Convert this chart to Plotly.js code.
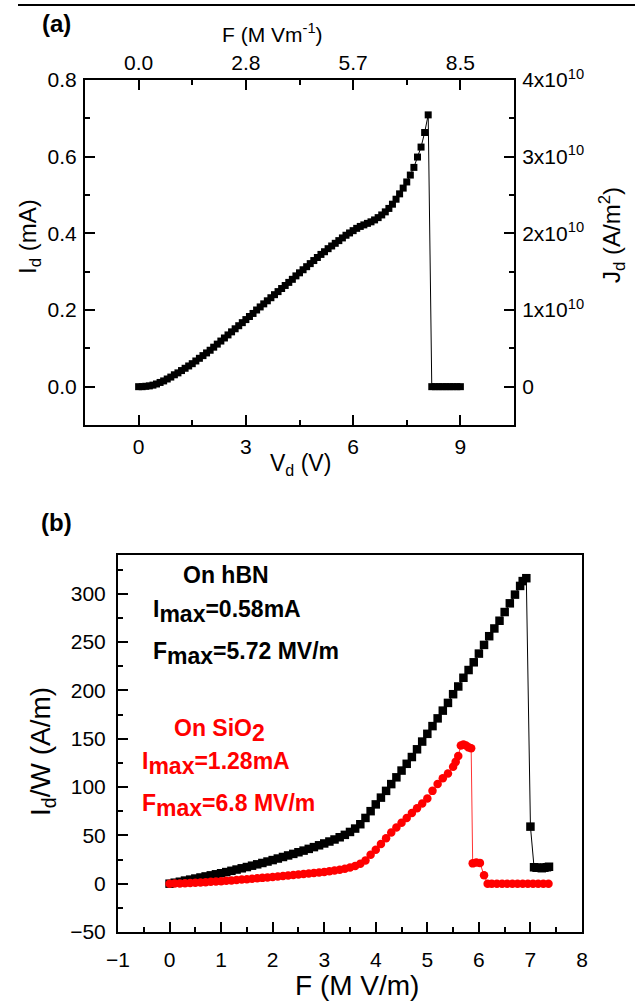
<!DOCTYPE html>
<html>
<head>
<meta charset="utf-8">
<script src="https://cdn.plot.ly/plotly-3.0.1.min.js"></script>
<style>html,body{margin:0;padding:0;background:#fff;}#chart{width:635px;height:1001px;}</style>
</head>
<body>
<div id="chart"></div>
<script>
// ---------- Panel (a): Id vs Vd ----------
const Vd = [0.0,0.1,0.2,0.3,0.4,0.5,0.6,0.7,0.8,0.9,1.0,1.1,1.2,1.3,1.4,1.5,1.6,1.7,1.8,1.9,
  2.0,2.1,2.2,2.3,2.4,2.5,2.6,2.7,2.8,2.9,3.0,3.1,3.2,3.3,3.4,3.5,3.6,3.7,3.8,3.9,
  4.0,4.1,4.2,4.3,4.4,4.5,4.6,4.7,4.8,4.9,5.0,5.1,5.2,5.3,5.4,5.5,5.6,5.7,5.8,5.9,
  6.0,6.1,6.2,6.3,6.4,6.5,6.6,6.7,6.8,6.9,7.0,7.1,7.2,7.3,7.4,7.5,7.6,7.7,7.8,7.9,
  8.0,8.1,8.2,8.3,8.4,8.5,8.6,8.7,8.8,8.9,9.0];
const Id_mA = [0.000,0.000,0.001,0.002,0.004,0.007,0.011,0.015,0.020,0.025,0.031,0.036,0.042,0.048,0.054,0.060,0.067,0.074,0.081,0.088,
  0.095,0.103,0.111,0.119,0.127,0.135,0.143,0.151,0.159,0.167,0.175,0.183,0.191,0.200,0.208,0.216,0.224,0.232,0.240,0.248,
  0.256,0.264,0.272,0.280,0.289,0.297,0.305,0.313,0.321,0.329,0.337,0.345,0.352,0.360,0.367,0.374,0.381,0.388,0.395,0.401,
  0.407,0.413,0.418,0.422,0.426,0.430,0.435,0.441,0.448,0.456,0.465,0.476,0.489,0.503,0.518,0.534,0.552,0.572,0.599,0.625,
  0.663,0.709,0.000,0.000,0.000,0.000,0.000,0.000,0.000,0.000,0.000];

// tick labels (a)
const F_top_vals = [0, 3, 6, 9];
const F_top_labels = ['0.0', '2.8', '5.7', '8.5'];
const J_tick_vals = [0, 1e10, 2e10, 3e10, 4e10];
const J_tick_labels = ['0', '1x10<sup>10</sup>', '2x10<sup>10</sup>', '3x10<sup>10</sup>', '4x10<sup>10</sup>'];

// ---------- Panel (b): Id/W vs F ----------
const F_hBN = [0.0,0.1,0.2,0.3,0.4,0.5,0.6,0.7,0.8,0.9,1.0,1.1,1.2,1.3,1.4,1.5,1.6,1.7,1.8,1.9,
  2.0,2.1,2.2,2.3,2.4,2.5,2.6,2.7,2.8,2.9,3.0,3.1,3.2,3.3,3.4,3.5,3.6,3.7,3.8,3.9,
  4.0,4.1,4.2,4.3,4.4,4.5,4.6,4.7,4.8,4.9,5.0,5.1,5.2,5.3,5.4,5.5,5.6,5.7,5.8,5.9,
  6.0,6.1,6.2,6.3,6.4,6.5,6.6,6.7,6.8,6.85,6.92,7.0,7.07,7.12,7.17,7.22,7.27,7.32,7.36];
const IW_hBN = [0,1,2,3.2,4.2,5.3,6.4,7.5,8.6,9.7,10.8,12,13.3,14.6,15.9,17.2,18.6,20,21.4,22.9,
  24.4,26,27.6,29.2,30.8,32.5,34.2,36,37.8,39.7,41.6,43.6,45.7,48,50.5,53.5,57,61.5,68,75,
  82,89,96,103,110,117,124,131,139,147,155,163,171,179,187,196,204,213,221,229,
  238,247,256,264,272,281,290,299,308,313,316,59,17,16.5,16.5,16,16.5,17,17.5];

const F_SiO2 = [0.0,0.1,0.2,0.3,0.4,0.5,0.6,0.7,0.8,0.9,1.0,1.1,1.2,1.3,1.4,1.5,1.6,1.7,1.8,1.9,
  2.0,2.1,2.2,2.3,2.4,2.5,2.6,2.7,2.8,2.9,3.0,3.1,3.2,3.3,3.4,3.5,3.6,3.7,3.8,3.9,
  4.0,4.1,4.2,4.3,4.4,4.5,4.6,4.7,4.8,4.9,5.0,5.1,5.2,5.3,5.4,5.5,5.55,5.6,5.65,5.7,5.75,5.8,5.85,
  5.88,5.95,6.02,6.1,6.17,6.25,6.35,6.45,6.55,6.65,6.75,6.85,6.95,7.05,7.15,7.25,7.35];
const IW_SiO2 = [0.0,0.1,0.2,0.4,0.6,0.9,1.2,1.5,1.9,2.2,2.6,3.0,3.4,3.8,4.2,4.6,5.1,5.6,6.0,6.5,
  7.0,7.5,8.0,8.5,9.0,9.5,10.0,10.5,11.0,11.5,12.0,12.8,13.6,14.5,15.5,16.7,18.2,20.5,24.0,30,
  35,41,47,53,58,63,68,73,78,83,88,96,103,109,114,121,126,132,143,144,143,141,140,
  21,22,21.5,8.6,0,0,0,0,0,0,0,0,0,0,0,0,0];

const FONT = 'Liberation Sans, Arial, Helvetica, sans-serif';
const W = 635, H = 1001;
const px = x => x / W;
const py = y => 1 - y / H;

const traces = [
  { x: Vd, y: Id_mA, xaxis: 'x', yaxis: 'y', type: 'scatter', mode: 'lines+markers',
    line: { color: '#000', width: 1 }, marker: { symbol: 'square', size: 7, color: '#000' },
    hoverinfo: 'x+y' },
  // carrier for the top (F) and right (J) axes of panel (a)
  { x: [Vd[0]], y: [0], xaxis: 'x2', yaxis: 'y2', type: 'scatter', mode: 'markers',
    marker: { opacity: 0 }, hoverinfo: 'skip', showlegend: false },
  { x: F_hBN, y: IW_hBN, xaxis: 'x3', yaxis: 'y3', type: 'scatter', mode: 'lines+markers',
    line: { color: '#000', width: 1 }, marker: { symbol: 'square', size: 8.5, color: '#000' } },
  { x: F_SiO2, y: IW_SiO2, xaxis: 'x3', yaxis: 'y3', type: 'scatter', mode: 'lines+markers',
    line: { color: '#ff3333', width: 1 }, marker: { symbol: 'circle', size: 8.5, color: '#ff0000' } }
];

const axBase = {
  showline: true, linewidth: 2, linecolor: '#000', showgrid: false, zeroline: false,
  ticks: 'inside', ticklen: 10, tickwidth: 2, tickcolor: '#000',
  tickfont: { family: FONT, size: 21, color: '#000' }, fixedrange: true
};
const minorTicks = (d) => ({ tickmode: 'linear', tick0: 0, dtick: d, ticks: 'inside', ticklen: 5, tickwidth: 2, tickcolor: '#000', showgrid: false });

const layout = {
  width: W, height: H, margin: { l: 0, r: 0, t: 0, b: 0 },
  paper_bgcolor: '#fff', plot_bgcolor: '#fff', showlegend: false,
  font: { family: FONT, size: 21, color: '#000' },
  xaxis: Object.assign({}, axBase, {
    domain: [px(85), px(514)], anchor: 'y', range: [-1.5, 10.5], tick0: 0, dtick: 3,
    minor: minorTicks(1.5), ticklabelstandoff: 2
  }),
  xaxis2: Object.assign({}, axBase, {
    overlaying: 'x', side: 'top', anchor: 'y', range: [-1.5, 10.5],
    tickmode: 'array', tickvals: F_top_vals, ticktext: F_top_labels,
    minor: minorTicks(1.5), ticklabelstandoff: 0
  }),
  yaxis: Object.assign({}, axBase, {
    domain: [py(425), py(80)], anchor: 'x', range: [-0.1, 0.8], tick0: 0, dtick: 0.2,
    tickformat: '.1f', minor: minorTicks(0.1), ticklabelstandoff: 2
  }),
  yaxis2: Object.assign({}, axBase, {
    overlaying: 'y', side: 'right', anchor: 'x', range: [-0.5e10, 4e10],
    tickmode: 'array', tickvals: J_tick_vals, ticktext: J_tick_labels,
    minor: minorTicks(0.5e10), ticklabelstandoff: 2
  }),
  xaxis3: Object.assign({}, axBase, {
    domain: [px(118), px(582)], anchor: 'y3', range: [-1, 8], tick0: 0, dtick: 1,
    minor: minorTicks(0.5), mirror: true, ticklabelstandoff: 8
  }),
  yaxis3: Object.assign({}, axBase, {
    domain: [py(932), py(555)], anchor: 'x3', range: [-50, 340], tick0: 0, dtick: 50,
    minor: minorTicks(25), mirror: true, ticklabelstandoff: 6
  }),
  shapes: [
    { type: 'line', xref: 'paper', yref: 'paper', x0: px(18), x1: 1, y0: py(5), y1: py(5),
      line: { color: '#000', width: 2 } }
  ],
  annotations: []
};

function ann(text, x, y, opts) {
  layout.annotations.push(Object.assign({
    text: text, xref: 'paper', yref: 'paper', x: px(x), y: py(y),
    xanchor: 'center', yanchor: 'middle', showarrow: false,
    font: { family: FONT, size: 22, color: '#000' }
  }, opts || {}));
}

// panel labels
ann('<b>(a)</b>', 56, 24, { font: { family: FONT, size: 24, color: '#000' } });
ann('<b>(b)</b>', 56, 522, { font: { family: FONT, size: 24, color: '#000' } });
// panel (a) axis titles
ann('F (M Vm<sup>-1</sup>)', 272, 33, { font: { family: FONT, size: 21, color: '#000' } });
ann('V<sub>d</sub> (V)', 300, 465, { font: { family: FONT, size: 23, color: '#000' } });
ann('I<sub>d</sub> (mA)', 30, 237, { textangle: -90, font: { family: FONT, size: 24, color: '#000' } });
ann('J<sub>d</sub> (A/m<sup>2</sup>)', 612, 235, { textangle: -90, font: { family: FONT, size: 24, color: '#000' } });
// panel (b) axis titles
ann('F (M V/m)', 357, 985, { font: { family: FONT, size: 28, color: '#000' } });
ann('I<sub>d</sub>/W (A/m)', 42, 752, { textangle: -90, font: { family: FONT, size: 28, color: '#000' } });

// panel (b) notes (subscripts drawn at full size, as in the original)
const big = s => '<sub><span style="font-size:23px">' + s + '</span></sub>';
const noteB = { family: FONT, size: 23, color: '#000', weight: 'bold' };
const noteR = { family: FONT, size: 23, color: '#ff0000', weight: 'bold' };
ann('<b>On hBN</b>', 181, 575, { xanchor: 'left', font: noteB });
ann('<b>I' + big('max') + '=0.58mA</b>', 151, 611, { xanchor: 'left', font: noteB });
ann('<b>F' + big('max') + '=5.72 MV/m</b>', 151, 653, { xanchor: 'left', font: noteB });
ann('<b>On SiO' + big('2') + '</b>', 172, 730, { xanchor: 'left', font: noteR });
ann('<b>I' + big('max') + '=1.28mA</b>', 140, 763, { xanchor: 'left', font: noteR });
ann('<b>F' + big('max') + '=6.8 MV/m</b>', 140, 805, { xanchor: 'left', font: noteR });

Plotly.newPlot('chart', traces, layout, { displayModeBar: false, staticPlot: true });
</script>
</body>
</html>
